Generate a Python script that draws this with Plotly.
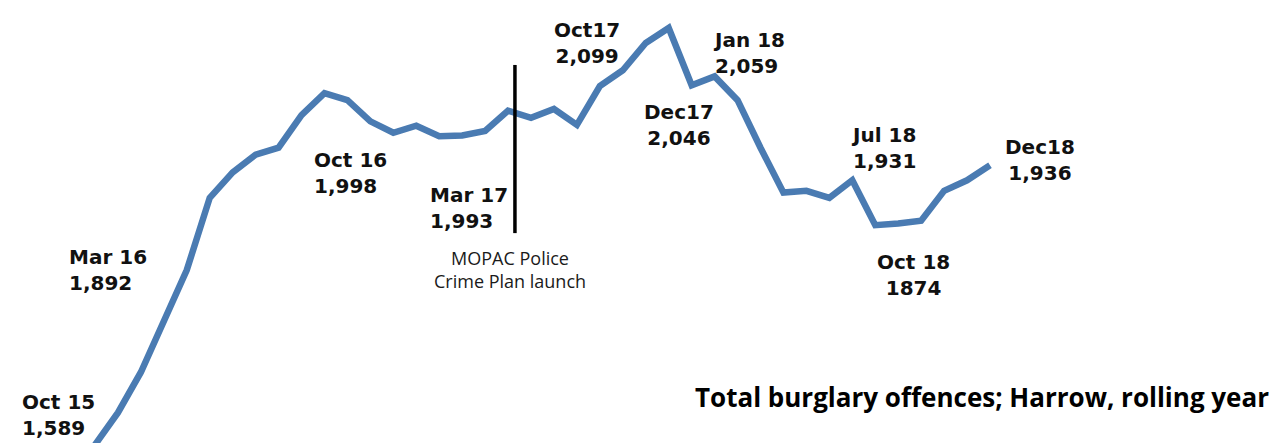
import plotly.graph_objects as go

# ---- data ----
months = ["Aug 15", "Sep 15", "Oct 15", "Nov 15", "Dec 15",
          "Jan 16", "Feb 16", "Mar 16", "Apr 16", "May 16", "Jun 16",
          "Jul 16", "Aug 16", "Sep 16", "Oct 16", "Nov 16", "Dec 16",
          "Jan 17", "Feb 17", "Mar 17", "Apr 17", "May 17", "Jun 17",
          "Jul 17", "Aug 17", "Sep 17", "Oct 17", "Nov 17", "Dec 17",
          "Jan 18", "Feb 18", "Mar 18", "Apr 18", "May 18", "Jun 18",
          "Jul 18", "Aug 18", "Sep 18", "Oct 18", "Nov 18", "Dec 18"]
burglaries = [1589, 1626, 1662, 1708, 1765, 1824, 1906, 1935, 1955, 1963,
              2000, 2025, 2017, 1993, 1980, 1988, 1976, 1977, 1982, 2005,
              1997, 2007, 1989, 2033, 2051, 2082, 2099, 2034, 2044, 2017,
              1963, 1912, 1914, 1906, 1926, 1875, 1877, 1880, 1914, 1926,
              1943]
label_texts = ["Oct 15<br>1,589", "Mar 16<br>1,892", "Oct 16<br>1,998",
               "Mar 17<br>1,993", "Oct17<br>2,099", "Dec17<br>2,046",
               "Jan 18<br>2,059", "Jul 18<br>1,931", "Oct 18<br>1874",
               "Dec18<br>1,936"]
event_text = "MOPAC Police<br>Crime Plan launch"
title_text = "Total burglary offences; Harrow, rolling year"

W, H = 1284, 443
fig = go.Figure()
fig.add_trace(go.Scatter(
    x=list(range(len(months))), y=burglaries, mode="lines",
    line=dict(color="#4a7bb2", width=6.5),
    text=months, hoverinfo="text+y", showlegend=False))

# label placement (pixels: left/center x, top y, anchor)
label_pos = [(12, 380, "left"), (59, 235, "left"), (304, 138, "left"),
             (420, 173, "left"), (579, 8, "center"), (671, 90, "center"),
             (703, 18, "left"), (875, 113, "center"), (905, 240, "center"),
             (1032, 125, "center")]
for txt, (px, py, anc) in zip(label_texts, label_pos):
    fig.add_annotation(x=px / W, y=1 - py / H, xref="paper", yref="paper",
                       text="<b>" + txt + "</b>", showarrow=False,
                       xanchor=anc, yanchor="top", align=anc,
                       font=dict(family="DejaVu Sans", size=20, color="#111"))

fig.add_annotation(x=502 / W, y=1 - 236 / H, xref="paper", yref="paper",
                   text=event_text, showarrow=False, xanchor="center",
                   yanchor="top", align="center",
                   font=dict(family="Open Sans", size=18, color="#1a1a1a"))

fig.add_annotation(x=1263 / W, y=1 - 369 / H, xref="paper", yref="paper",
                   text="<b>" + title_text + "</b>", showarrow=False,
                   xanchor="right", yanchor="top",
                   font=dict(family="Open Sans", size=26, color="#000"))

# launch marker: vertical line just after Mar 17
launch_idx = months.index("Mar 17") + 0.3
fig.add_shape(type="line", xref="x", yref="y", x0=launch_idx, x1=launch_idx,
              y0=1866, y1=2057, line=dict(color="black", width=3.5))

fig.update_layout(
    width=W, height=H, autosize=False,
    margin=dict(l=0, r=0, t=0, b=0),
    paper_bgcolor="white", plot_bgcolor="white",
    xaxis=dict(visible=False, range=[-2.79, 53.16]),
    yaxis=dict(visible=False, range=[1618.5, 2121.7]),
)
fig.write_html("out.html")
